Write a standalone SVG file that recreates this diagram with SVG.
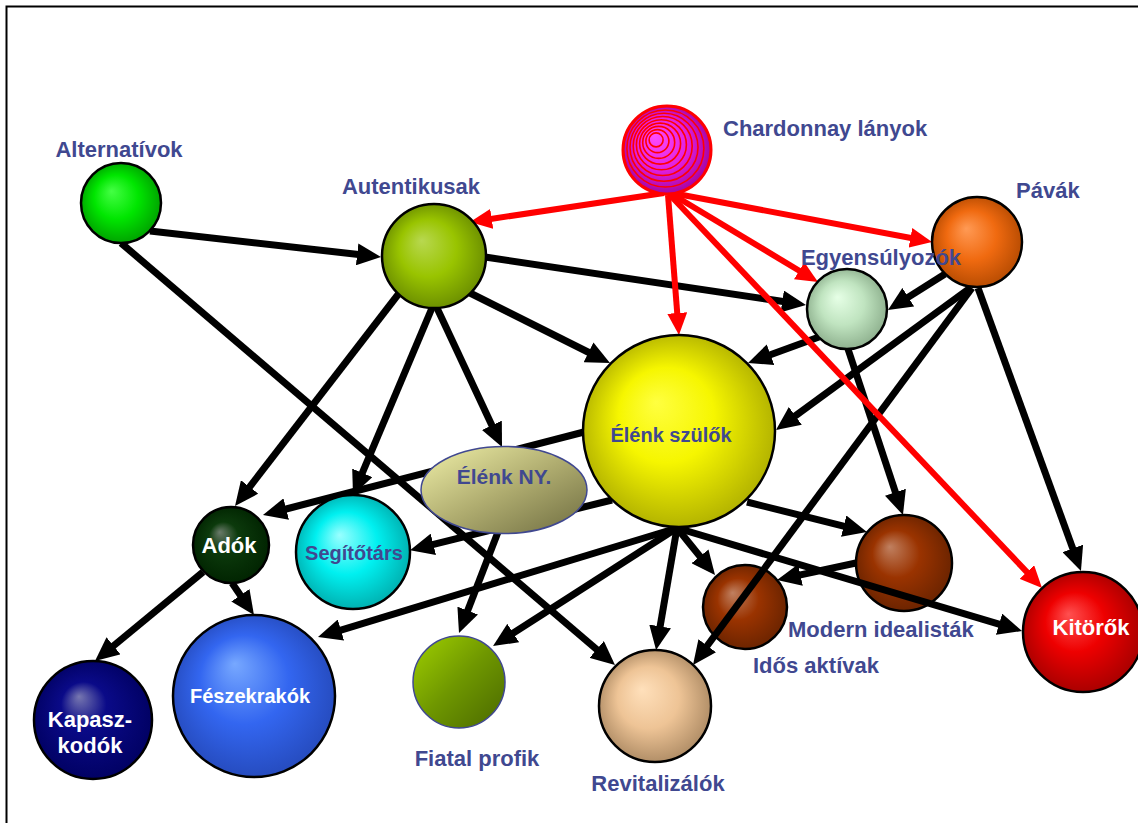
<svg xmlns="http://www.w3.org/2000/svg" width="1138" height="823" viewBox="0 0 1138 823">
  <style>
    .k { stroke: #000; stroke-width: 7; fill: none; marker-end: url(#ah); }
    .r { stroke: #f00; stroke-width: 6; fill: none; marker-end: url(#ahr); }
    .ball { stroke: #000; stroke-width: 2.5; }
    .lbl { font-family: "Liberation Sans", Arial, sans-serif; font-weight: bold; font-size: 22px; fill: #404890; }
    .in { font-size: 20px; }
    .w { fill: #fff; }
    .mid { text-anchor: middle; }
    .ring { fill: none; stroke: #f00; stroke-width: 1.6; }
  </style>
  <defs>
    <marker id="ah" viewBox="0 0 24 22" refX="6" refY="11" markerWidth="24" markerHeight="22" markerUnits="userSpaceOnUse" orient="auto">
      <path d="M0,0 L24,11 L0,22 z" fill="#000"/>
    </marker>
    <marker id="ahr" viewBox="0 0 22 20" refX="6" refY="10" markerWidth="22" markerHeight="20" markerUnits="userSpaceOnUse" orient="auto">
      <path d="M0,0 L22,10 L0,20 z" fill="#f00"/>
    </marker>
    <radialGradient id="gAlt" fx="0.38" fy="0.35" r="0.55"><stop offset="0" stop-color="#44ff44"/><stop offset="0.5" stop-color="#00e600"/><stop offset="1" stop-color="#009900"/></radialGradient>
    <radialGradient id="gAut" fx="0.38" fy="0.35" r="0.55"><stop offset="0" stop-color="#b8d850"/><stop offset="0.5" stop-color="#99c400"/><stop offset="1" stop-color="#668800"/></radialGradient>
    <radialGradient id="gCha" fx="0.35" fy="0.33" r="0.55"><stop offset="0" stop-color="#ff4dff"/><stop offset="0.55" stop-color="#e020e0"/><stop offset="1" stop-color="#990099"/></radialGradient>
    <radialGradient id="gPav" fx="0.38" fy="0.35" r="0.55"><stop offset="0" stop-color="#ff9a55"/><stop offset="0.5" stop-color="#f06a10"/><stop offset="1" stop-color="#b04800"/></radialGradient>
    <radialGradient id="gEgy" fx="0.38" fy="0.35" r="0.55"><stop offset="0" stop-color="#e6ffe6"/><stop offset="0.5" stop-color="#c0e4c0"/><stop offset="1" stop-color="#88aa88"/></radialGradient>
    <radialGradient id="gEsz" fx="0.38" fy="0.35" r="0.55"><stop offset="0" stop-color="#ffff40"/><stop offset="0.45" stop-color="#f6f600"/><stop offset="1" stop-color="#aaaa00"/></radialGradient>
    <linearGradient id="gNy" x1="0" y1="0" x2="1" y2="1"><stop offset="0" stop-color="#f0f0a8"/><stop offset="0.5" stop-color="#b0ad70"/><stop offset="1" stop-color="#6e6c40"/></linearGradient>
    <radialGradient id="gAdo" fx="0.35" fy="0.33" r="0.55"><stop offset="0" stop-color="#6a7a6a"/><stop offset="0.35" stop-color="#0c3a0c"/><stop offset="1" stop-color="#002200"/></radialGradient>
    <radialGradient id="gSeg" fx="0.38" fy="0.35" r="0.55"><stop offset="0" stop-color="#99ffff"/><stop offset="0.5" stop-color="#00f0f0"/><stop offset="1" stop-color="#00a8a8"/></radialGradient>
    <radialGradient id="gKap" fx="0.38" fy="0.3" r="0.55"><stop offset="0" stop-color="#7777b0"/><stop offset="0.35" stop-color="#0a0a88"/><stop offset="1" stop-color="#000060"/></radialGradient>
    <radialGradient id="gFes" fx="0.38" fy="0.3" r="0.55"><stop offset="0" stop-color="#77a8ff"/><stop offset="0.5" stop-color="#3366f0"/><stop offset="1" stop-color="#2448b8"/></radialGradient>
    <linearGradient id="gFia" x1="0" y1="0" x2="1" y2="1"><stop offset="0" stop-color="#a0d000"/><stop offset="0.5" stop-color="#6e9600"/><stop offset="1" stop-color="#4a6800"/></linearGradient>
    <radialGradient id="gRev" fx="0.38" fy="0.35" r="0.55"><stop offset="0" stop-color="#ffe0bb"/><stop offset="0.5" stop-color="#eec496"/><stop offset="1" stop-color="#a88660"/></radialGradient>
    <radialGradient id="gBrn" fx="0.35" fy="0.33" r="0.55"><stop offset="0" stop-color="#c08060"/><stop offset="0.45" stop-color="#9a3300"/><stop offset="1" stop-color="#662200"/></radialGradient>
    <radialGradient id="gKit" fx="0.38" fy="0.35" r="0.55"><stop offset="0" stop-color="#ff5050"/><stop offset="0.45" stop-color="#ee0000"/><stop offset="1" stop-color="#a00000"/></radialGradient>
  </defs>

  <rect x="0" y="0" width="1138" height="823" fill="#fff"/>
  <rect x="6.5" y="6.5" width="1160" height="840" fill="none" stroke="#000" stroke-width="2"/>

  <!-- nodes that sit under the connectors -->
  <g id="n-idos-aktivak">
    <circle class="ball" cx="745" cy="607" r="42" fill="url(#gBrn)"/>
    <text class="lbl" x="753" y="673">Idős aktívak</text>
  </g>
  <g id="n-modern-idealistak">
    <circle class="ball" cx="904" cy="563" r="48" fill="url(#gBrn)"/>
    <text class="lbl" x="788" y="637">Modern idealisták</text>
  </g>

  <g id="connectors">
    <!-- black -->
    <line class="k" x1="150" y1="231" x2="363.1" y2="255"/>
    <line class="k" x1="121" y1="243" x2="601.3" y2="653.3"/>
    <line class="k" x1="485" y1="257" x2="788.2" y2="302.3"/>
    <line class="k" x1="470" y1="293" x2="593.9" y2="355"/>
    <line class="k" x1="437" y1="308" x2="494.4" y2="430.7"/>
    <line class="k" x1="432" y1="308" x2="360" y2="478.4"/>
    <line class="k" x1="400" y1="292" x2="246" y2="491.7"/>
    <line class="k" x1="945" y1="274" x2="903.2" y2="300.4"/>
    <line class="k" x1="970" y1="288" x2="790.5" y2="419.4"/>
    <line class="k" x1="972" y1="288" x2="703.7" y2="650.5"/>
    <line class="k" x1="978" y1="288" x2="1074.8" y2="554.1"/>
    <line class="k" x1="819" y1="337" x2="764.9" y2="356.8"/>
    <line class="k" x1="848" y1="349" x2="897.3" y2="497.9"/>
    <line class="k" x1="584" y1="432" x2="280.4" y2="510.5"/>
    <line class="k" x1="612" y1="500" x2="427.5" y2="545.8"/>
    <line class="k" x1="677" y1="528" x2="335.2" y2="631.8"/>
    <line class="k" x1="677" y1="528" x2="508.2" y2="636.3"/>
    <line class="k" x1="677" y1="528" x2="659.1" y2="632.3"/>
    <line class="k" x1="677" y1="528" x2="703.7" y2="561"/>
    <line class="k" x1="747" y1="502" x2="849.5" y2="527.6"/>
    <line class="k" x1="677" y1="528" x2="1004.8" y2="625.9"/>
    <line class="k" x1="498" y1="532" x2="465.5" y2="616.2"/>
    <line class="k" x1="203" y1="572" x2="108.9" y2="649.6"/>
    <line class="k" x1="232" y1="583" x2="243.8" y2="600.2"/>
    <line class="k" x1="856" y1="563" x2="794.6" y2="576.2"/>
    <!-- red -->
    <line class="r" x1="664" y1="193" x2="485.8" y2="219.7"/>
    <line class="r" x1="668" y1="195" x2="677.7" y2="319"/>
    <line class="r" x1="670" y1="193" x2="804.3" y2="273.8"/>
    <line class="r" x1="672" y1="193" x2="916.3" y2="239"/>
    <line class="r" x1="670" y1="195" x2="1031" y2="576.4"/>
  </g>

  <g id="n-alternativok">
    <circle class="ball" cx="121" cy="203" r="40" fill="url(#gAlt)"/>
    <text class="lbl mid" x="119" y="157">Alternatívok</text>
  </g>
  <g id="n-autentikusak">
    <circle class="ball" cx="434" cy="256" r="52" fill="url(#gAut)"/>
    <text class="lbl mid" x="411" y="194">Autentikusak</text>
  </g>
  <g id="n-chardonnay">
    <circle cx="667" cy="150" r="44" fill="url(#gCha)"/>
    <circle class="ring" cx="656.1" cy="139.9" r="7"/>
    <circle class="ring" cx="657.4" cy="141.1" r="11.5"/>
    <circle class="ring" cx="658.7" cy="142.4" r="16"/>
    <circle class="ring" cx="660.1" cy="143.6" r="20.5"/>
    <circle class="ring" cx="661.4" cy="144.8" r="25"/>
    <circle class="ring" cx="662.7" cy="146" r="29.5"/>
    <circle class="ring" cx="664" cy="147.3" r="34"/>
    <circle class="ring" cx="665.4" cy="148.5" r="38.5"/>
    <circle cx="667" cy="150" r="44" fill="none" stroke="#f00" stroke-width="3"/>
    <text class="lbl" x="723" y="136">Chardonnay lányok</text>
  </g>
  <g id="n-pavak">
    <circle class="ball" cx="977" cy="242" r="45" fill="url(#gPav)"/>
    <text class="lbl" x="1016" y="198">Pávák</text>
  </g>
  <g id="n-egyensulyozok">
    <circle class="ball" cx="847" cy="309" r="40" fill="url(#gEgy)"/>
    <text class="lbl mid" x="881" y="265">Egyensúlyozók</text>
  </g>
  <g id="n-elenk-szulok">
    <circle class="ball" cx="679" cy="431" r="96" fill="url(#gEsz)"/>
    <text class="lbl in mid" x="671" y="442">Élénk szülők</text>
  </g>
  <g id="n-elenk-ny">
    <ellipse cx="504" cy="490" rx="83" ry="43.5" fill="url(#gNy)" stroke="#404890" stroke-width="1.5"/>
    <text class="lbl mid" x="504" y="484" style="font-size:21px">Élénk NY.</text>
  </g>
  <g id="n-adok">
    <circle class="ball" cx="231" cy="545" r="38" fill="url(#gAdo)"/>
    <text class="lbl w mid" x="229" y="553">Adók</text>
  </g>
  <g id="n-segitotars">
    <circle class="ball" cx="353" cy="552" r="57" fill="url(#gSeg)"/>
    <text class="lbl in mid" x="354" y="560">Segítőtárs</text>
  </g>
  <g id="n-kapaszkodok">
    <circle class="ball" cx="93" cy="720" r="59" fill="url(#gKap)"/>
    <text class="lbl w mid" x="90" y="727">Kapasz-</text>
    <text class="lbl w mid" x="90" y="753">kodók</text>
  </g>
  <g id="n-feszekrakok">
    <circle class="ball" cx="254" cy="696" r="81" fill="url(#gFes)"/>
    <text class="lbl w in mid" x="250" y="703">Fészekrakók</text>
  </g>
  <g id="n-fiatal-profik">
    <circle cx="459" cy="682" r="46" fill="url(#gFia)" stroke="#404890" stroke-width="1.5"/>
    <text class="lbl mid" x="477" y="766">Fiatal profik</text>
  </g>
  <g id="n-revitalizalok">
    <circle class="ball" cx="655" cy="706" r="56" fill="url(#gRev)"/>
    <text class="lbl mid" x="658" y="791">Revitalizálók</text>
  </g>
  <g id="n-kitorok">
    <circle class="ball" cx="1083" cy="632" r="60" fill="url(#gKit)"/>
    <text class="lbl w mid" x="1091" y="635">Kitörők</text>
  </g>
</svg>
